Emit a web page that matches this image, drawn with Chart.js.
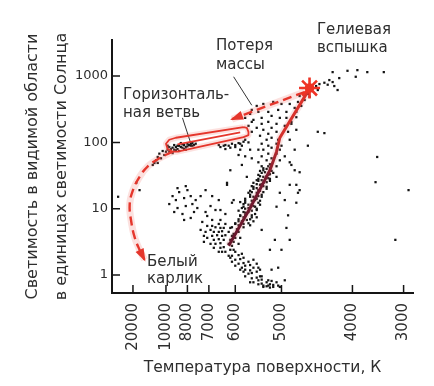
<!DOCTYPE html>
<html>
<head>
<meta charset="utf-8">
<script src="https://cdn.jsdelivr.net/npm/chart.js@4.4.1/dist/chart.umd.min.js"></script>
<style>
html,body{margin:0;padding:0;background:#fff;}
#c{display:block;}
</style>
</head>
<body>
<canvas id="c" width="434" height="386"></canvas>
<script>
// ---- axis ticks ----
const tempTickLabels = ['20000','10000','8000','7000','6000','5000','4000','3000'];
const tempTickColor  = [-0.20, 0.00, 0.13, 0.26, 0.42, 0.70, 1.13, 1.44]; // colour-index position of each temperature
const lumTickValues  = [1, 10, 100, 1000];
const lumTickLabels  = ['1','10','100','1000'];

// ---- stars: [colour index, lg L] ----
const msLower = [[0.41,0.38],[0.42,0.35],[0.40,0.29],[0.44,0.30],[0.46,0.32],[0.42,0.23],[0.45,0.24],[0.47,0.26],[0.44,0.17],[0.47,0.18],[0.50,0.20],[0.46,0.11],[0.48,0.14],[0.51,0.15],[0.48,0.08],[0.51,0.07],[0.53,0.11],[0.50,0.02],[0.52,0.03],[0.55,0.05],[0.52,-0.05],[0.55,-0.04],[0.57,-0.02],[0.53,-0.11],[0.56,-0.08],[0.58,-0.07],[0.56,-0.14],[0.58,-0.13],[0.61,-0.11],[0.59,-0.18],[0.62,-0.16],[0.63,-0.14],[0.61,-0.17],[0.63,-0.19],[0.65,-0.18],[0.48,-0.02],[0.45,0.08],[0.55,0.17],[0.57,0.08],[0.58,-0.02],[0.62,-0.08],[0.64,-0.09],[0.51,-0.11],[0.42,0.14],[0.40,0.20],[0.59,-0.16],[0.65,-0.15],[0.68,-0.16],[0.69,-0.18],[0.39,0.26],[0.53,0.23],[0.67,-0.11],[0.72,-0.08],[0.56,0.11],[0.47,0.05],[0.68,0.11],[0.64,0.08]];
const turnoff = [[0.27,0.68],[0.28,0.74],[0.29,0.65],[0.30,0.72],[0.28,0.59],[0.31,0.60],[0.32,0.65],[0.33,0.71],[0.29,0.53],[0.32,0.54],[0.34,0.59],[0.34,0.66],[0.35,0.71],[0.30,0.47],[0.33,0.48],[0.35,0.53],[0.36,0.60],[0.38,0.65],[0.33,0.41],[0.35,0.42],[0.38,0.47],[0.39,0.53],[0.36,0.35],[0.39,0.38],[0.40,0.44],[0.41,0.50],[0.25,0.56],[0.24,0.65],[0.27,0.47],[0.29,0.41],[0.32,0.77],[0.36,0.77],[0.39,0.71],[0.41,0.62],[0.42,0.56],[0.44,0.47],[0.34,0.35],[0.38,0.29],[0.28,0.83],[0.25,0.74],[0.23,0.59],[0.23,0.50],[0.21,0.68],[0.33,0.83],[0.40,0.59],[0.44,0.65],[0.45,0.56],[0.32,0.35]];
const rgbLower = [[0.40,0.72],[0.44,0.75],[0.47,0.72],[0.51,0.75],[0.42,0.78],[0.46,0.81],[0.50,0.78],[0.53,0.81],[0.44,0.84],[0.47,0.87],[0.51,0.84],[0.55,0.87],[0.45,0.90],[0.48,0.94],[0.52,0.90],[0.44,0.97],[0.48,1.00],[0.52,0.97],[0.55,1.00],[0.47,1.03],[0.50,1.06],[0.54,1.03],[0.57,1.06],[0.48,1.09],[0.52,1.12],[0.56,1.09],[0.48,1.15],[0.51,1.18],[0.55,1.15],[0.58,1.18],[0.51,1.21],[0.55,1.24],[0.58,1.21],[0.51,1.27],[0.53,1.30],[0.57,1.27],[0.61,1.30],[0.53,1.33],[0.57,1.36],[0.61,1.33],[0.53,1.39],[0.56,1.42],[0.59,1.39],[0.63,1.42],[0.56,1.45],[0.59,1.48],[0.63,1.45],[0.56,1.51],[0.58,1.54],[0.62,1.51],[0.65,1.54],[0.57,1.57],[0.61,1.60],[0.64,1.57],
  [0.42,0.77],[0.49,0.83],[0.45,0.89],[0.54,0.92],[0.47,0.95],[0.50,1.01],[0.53,1.04],[0.47,1.07],[0.54,1.13],[0.56,1.19],[0.52,1.25],[0.59,1.25],[0.55,1.31],[0.59,1.34],[0.55,1.37],[0.61,1.40],[0.58,1.43],[0.61,1.49],[0.60,1.55],[0.63,1.61],[0.59,1.61],
  [0.43,0.69],[0.47,0.77],[0.44,0.81],[0.52,0.87],[0.48,0.90],[0.50,0.95],[0.46,1.01],[0.55,0.98],[0.52,1.07],[0.48,1.12],[0.57,1.12],[0.53,1.18],[0.50,1.24],[0.56,1.28],[0.52,1.34],[0.58,1.37],[0.55,1.43],[0.62,1.46],[0.57,1.49],[0.63,1.52],[0.59,1.58],[0.62,1.64]];
const rgbUpper = [[0.58,1.64],[0.63,1.67],[0.67,1.64],[0.56,1.70],[0.61,1.73],[0.64,1.76],[0.69,1.73],[0.58,1.79],[0.62,1.83],[0.67,1.83],[0.56,1.89],[0.59,1.89],[0.64,1.92],[0.69,1.89],[0.62,1.95],[0.67,1.98],[0.58,1.98],[0.61,2.04],[0.64,2.07],[0.68,2.04],[0.57,2.10],[0.62,2.13],[0.67,2.16],[0.59,2.19],[0.64,2.22],[0.55,2.22],[0.58,2.28],[0.62,2.31],[0.67,2.28],[0.53,2.34],[0.58,2.37],[0.64,2.40],[0.69,2.37],[0.56,2.46],[0.62,2.46],[0.68,2.49],[0.73,2.46],[0.73,2.37],[0.72,2.25],[0.70,1.95],[0.72,1.79],[0.75,1.70],[0.78,1.58],[0.52,2.16],[0.52,2.31],[0.50,2.25],[0.55,2.55],[0.52,2.49],[0.59,2.58],[0.65,2.61],[0.70,2.58],[0.75,2.58],[0.78,2.52],[0.80,2.61],[0.82,2.55],[0.84,2.64],[0.79,2.46],[0.81,2.70],[0.84,2.70],[0.86,2.73]];
const tipRegion = [[0.91,2.85],[0.93,2.88],[0.96,2.90],[0.98,2.87],[1.01,2.91],[1.02,2.85],[0.92,2.79],[1.04,2.79],[1.01,3.06],[1.05,2.97],[1.10,3.08],[1.15,2.99],[1.16,3.09],[1.22,3.06],[1.32,3.06],[0.99,2.94],[0.87,2.69]];
const field = [[0.92,2.16],[0.96,2.14],[0.86,1.95],[1.28,1.78],[0.76,1.66],[0.81,1.55],[1.27,1.40],[0.79,1.36],[0.80,1.24],[1.47,1.28],[1.39,0.53],[0.72,1.13],[0.74,0.90],[0.73,0.71],[0.75,0.53],[0.70,0.38],[0.63,0.38],[0.66,0.53],[0.67,1.48],[0.69,1.24],[0.75,1.36],[0.79,1.09],[0.58,0.68],[0.67,1.03],[0.81,1.28],[0.37,1.36],[0.40,1.09],[0.45,1.10],[0.24,0.95],[0.27,1.04],[0.30,0.98],[0.22,0.80],[0.25,0.89],[0.41,1.13],[0.39,1.58],[0.46,1.66],[0.49,1.48],[0.37,1.39],[0.44,1.81],[-0.16,1.28],[-0.29,1.18],[-0.18,1.39],[0.28,1.19],[0.24,1.28],[0.32,1.13],[0.33,0.98],[0.36,0.92],[0.76,2.28],[0.79,2.19],[0.75,2.04],[0.78,1.89],[0.74,2.16],[0.51,1.89],[0.52,1.76],[0.48,1.79],[0.48,2.37],[0.51,2.43],[0.76,2.31],[0.79,2.38]];
const horizBranch = [[-0.06,1.73],[-0.05,1.78],[-0.03,1.76],[-0.04,1.83],[-0.01,1.81],[0.00,1.86],[0.01,1.89],[0.02,1.86],[0.04,1.92],[0.05,1.89],[0.06,1.93],[0.07,1.90],[0.08,1.95],[0.10,1.92],[0.11,1.96],[0.12,1.93],[0.13,1.98],[0.15,1.95],[0.16,1.99],[0.17,1.96],[0.02,1.93],[0.05,1.96],[0.08,1.87],[0.12,1.89],[0.04,1.84],[-0.02,1.87],[-0.07,1.69],[-0.08,1.66],[-0.05,1.69],[0.18,1.98],[0.01,1.95],[0.09,1.99],[0.03,1.90],[0.06,1.88],[0.09,1.93],[0.11,1.90],[0.14,1.96],[0.10,1.97],[0.13,1.94],[0.07,1.95],[0.15,1.98],[0.16,1.95]];
const redClump = [[0.33,1.93],[0.35,1.95],[0.36,1.96],[0.38,1.95],[0.40,1.98],[0.42,1.96],[0.44,1.99],[0.45,1.98],[0.47,2.01],[0.48,2.04],[0.39,1.92],[0.42,1.93],[0.46,1.95],[0.32,1.96],[0.50,2.00],[0.45,1.89],[0.36,1.90]];
const leftGroup = [[0.04,1.19],[0.06,1.13],[0.08,1.25],[0.11,1.16],[0.13,1.28],[0.15,1.19],[0.16,1.07],[0.12,1.04],[0.07,1.01],[0.05,0.95],[0.10,0.92],[0.17,0.95],[0.18,1.13],[0.02,1.07],[0.12,1.34],[0.07,1.31],[0.15,0.86],[0.19,1.01],[0.11,0.83],[0.21,1.19]];

// ---- evolutionary track: [colour index, lg L] ----
const heliumFlash  = [[0.87,2.82]];
const rgbTrack     = [[0.38,0.44],[0.51,1.01],[0.63,1.58],[0.67,1.86],[0.69,2.07],[0.86,2.77]];
const flashToHB    = [[0.84,2.76],[0.40,2.35]];
const hbLoop       = [[0.47,2.23],[0.06,2.07],[0.02,2.04],[0.00,1.98],[0.01,1.90],[0.04,1.86],[0.07,1.86],[0.47,2.08],[0.50,2.11],[0.50,2.16],[0.49,2.22],[0.47,2.23]];
const hbInner      = [[0.07,1.97],[0.45,2.15]];
const toWhiteDwarf = [[0.04,1.86],[-0.04,1.76],[-0.11,1.64],[-0.16,1.48],[-0.20,1.28],[-0.22,1.06],[-0.21,0.80],[-0.19,0.57],[-0.16,0.38],[-0.13,0.23]];
const massLeader   = [[0.41,2.99],[0.52,2.56]];
const hbLeader     = [[0.10,2.37],[0.15,1.99]];

// ---- annotations: [text, colour index, lg L] ----
const notes = [
  ['Гелиевая', 0.915, 3.695],
  ['вспышка', 0.915, 3.424],
  ['Потеря', 0.303, 3.454],
  ['массы', 0.303, 3.167],
  ['Горизонталь-', -0.261, 2.715],
  ['ная ветвь', -0.261, 2.443],
  ['Белый', -0.115, 0.196],
  ['карлик', -0.115, -0.06]
];

const FONT = "'DejaVu Sans', 'Liberation Sans', sans-serif";
const TXT = '#2e2e2e';
const RED = '#e5362c';
const GLOW = 'rgba(240,120,110,0.22)';
const toPts = arr => arr.map(([c, l]) => ({x: c, y: Math.pow(10, l)}));
const allStars = [].concat(msLower, turnoff, rgbLower, rgbUpper, tipRegion, field, horizBranch, redClump, leftGroup);

function lineDs(data, color, width, dash, tension, order) {
  return {type:'line', data: toPts(data), borderColor: color, borderWidth: width, borderDash: dash || [],
    pointRadius: 0, pointHitRadius: 0, fill: false, tension: tension || 0, order: order, borderCapStyle: 'butt', borderJoinStyle: 'round'};
}

const rgbGradient = (ctx) => {
  const ca = ctx.chart.chartArea;
  if (!ca) return '#8a1f30';
  const g = ctx.chart.ctx.createLinearGradient(0, ca.bottom, 0, ca.top);
  g.addColorStop(0, '#5a1226');
  g.addColorStop(0.45, '#781a30');
  g.addColorStop(0.62, '#d3302b');
  g.addColorStop(1, '#e8362b');
  return g;
};

const datasets = [
  {type:'scatter', data: toPts(heliumFlash), pointStyle:'star', pointRadius:10.5, borderColor:'#ee3325', pointBorderWidth:2.6, backgroundColor:'#ee3325', order:0},
  {type:'scatter', data: toPts(heliumFlash), pointStyle:'circle', pointRadius:4.8, borderWidth:0, backgroundColor:'#ee3325', order:0},
  lineDs(flashToHB, RED, 2.4, [9,5], 0, 1),      // 2
  lineDs(toWhiteDwarf, RED, 2.4, [9,5], 0.4, 1), // 3
  lineDs(rgbTrack, rgbGradient, 3, null, 0, 1),
  lineDs(hbLoop, RED, 1.8, null, 0, 1),
  lineDs(hbInner, RED, 1.8, null, 0, 1),
  lineDs(massLeader, '#333', 1, null, 0, 2),
  lineDs(hbLeader, '#333', 1, null, 0, 2),
  lineDs(flashToHB, GLOW, 7, null, 0, 3),
  lineDs(toWhiteDwarf, GLOW, 7, null, 0.4, 3),
  lineDs(rgbTrack, 'rgba(230,110,110,0.18)', 7, null, 0, 3),
  lineDs(hbLoop, GLOW, 6, null, 0, 3),
  {type:'scatter', data: toPts(allStars), pointStyle:'rect', pointRadius:1.6, borderWidth:0, backgroundColor:'#141414', order:5}
];
const arrowSets = [2, 3];

const decor = {
  id: 'decor',
  afterDatasetsDraw(chart) {
    const {ctx, chartArea: a, scales: {x, y}} = chart;
    ctx.save();
    ctx.strokeStyle = '#151515';
    ctx.lineWidth = 1.5;
    ctx.beginPath();
    tempTickColor.forEach(v => { const px = x.getPixelForValue(v); ctx.moveTo(px, a.bottom); ctx.lineTo(px, a.bottom - 8); });
    lumTickValues.forEach(v => { const py = y.getPixelForValue(v); ctx.moveTo(a.left, py); ctx.lineTo(a.left + 8, py); });
    ctx.stroke();
    ctx.fillStyle = RED;
    arrowSets.forEach(i => {
      const pts = chart.getDatasetMeta(i).data;
      const p = pts[pts.length - 1], q = pts[pts.length - 2];
      const ang = Math.atan2(p.y - q.y, p.x - q.x);
      const L = 11, W = 4.5;
      const bx = p.x - L * Math.cos(ang), by = p.y - L * Math.sin(ang);
      ctx.beginPath();
      ctx.moveTo(p.x + 2 * Math.cos(ang), p.y + 2 * Math.sin(ang));
      ctx.lineTo(bx + W * Math.sin(ang), by - W * Math.cos(ang));
      ctx.lineTo(bx - W * Math.sin(ang), by + W * Math.cos(ang));
      ctx.closePath();
      ctx.fill();
    });
    ctx.fillStyle = TXT;
    ctx.font = '15px ' + FONT;
    ctx.textBaseline = 'middle';
    ctx.textAlign = 'left';
    notes.forEach(([t, c, l]) => ctx.fillText(t, x.getPixelForValue(c), y.getPixelForValue(Math.pow(10, l))));
    ctx.restore();
  }
};

new Chart(document.getElementById('c'), {
  type: 'scatter',
  data: {datasets},
  options: {
    responsive: false,
    animation: false,
    events: [],
    layout: {padding: {top: 40, right: 21, left: 0, bottom: 0}},
    plugins: {legend: {display: false}, tooltip: {enabled: false}},
    scales: {
      x: {
        type: 'linear', min: -0.327, max: 1.497,
        afterBuildTicks: s => { s.ticks = tempTickColor.map(v => ({value: v})); },
        afterFit: s => { s.height = 93; },
        grid: {display: false, drawTicks: false},
        border: {display: true, color: '#151515', width: 2},
        ticks: {autoSkip: false, minRotation: 90, maxRotation: 90, padding: 10, color: TXT,
          font: {family: FONT, size: 15}, callback: (v, i) => tempTickLabels[i]},
        title: {display: true, text: 'Температура поверхности, К', color: TXT,
          font: {family: FONT, size: 15.5, lineHeight: 1.2}, padding: {top: 0, bottom: 9}}
      },
      y: {
        type: 'logarithmic', min: 0.535, max: 3504,
        afterBuildTicks: s => { s.ticks = lumTickValues.map(v => ({value: v})); },
        afterFit: s => { s.width = 112; },
        grid: {display: false, drawTicks: false},
        border: {display: true, color: '#151515', width: 2},
        ticks: {padding: 4, color: TXT, font: {family: FONT, size: 13}, callback: (v, i) => lumTickLabels[i]},
        title: {display: true, text: ['Светимость в видимой области', 'в единицах светимости Солнца'], color: TXT,
          font: {family: FONT, size: 16, lineHeight: 1.8}, padding: {top: 18.6, bottom: 0}}
      }
    }
  },
  plugins: [decor]
});
</script>
</body>
</html>
